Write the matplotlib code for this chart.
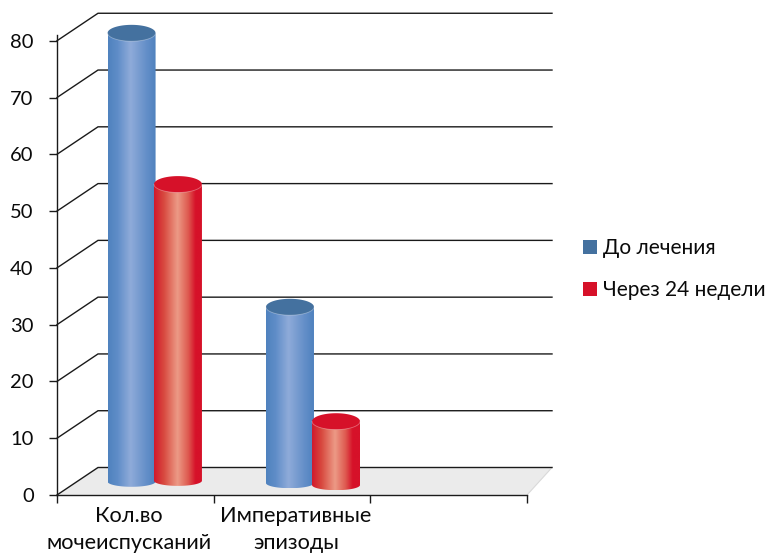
import numpy as np
import matplotlib
matplotlib.use("Agg")
import matplotlib.pyplot as plt
from matplotlib.colors import LinearSegmentedColormap
from matplotlib.patches import Patch, Polygon

plt.rcParams['font.family'] = ['Lato', 'Noto Sans', 'DejaVu Sans']

categories = ["Кол.во\nмочеиспусканий", "Императивные\nэпизоды"]
series_names = ["До лечения", "Через 24 недели"]
before = [79.0, 31.0]
after = [52.2, 11.2]
y_ticks = list(range(0, 90, 10))

W, H = 766, 554
PX_X = 156.67          # pixels per category slot
PX_Y = 5.678           # pixels per value unit
X0, Y0 = 57, 495       # pixel position of the front axis origin
DX = 41 / PX_X         # wall depth along x
DY = 27.5 / PX_Y       # wall depth along y
N_SLOTS = 3

fig = plt.figure(figsize=(W / 100, H / 100), dpi=100)
ax = fig.add_axes([0, 0, 1, 1])
ax.set_xlim(-X0 / PX_X, (W - X0) / PX_X)
ax.set_ylim((Y0 - H) / PX_Y, Y0 / PX_Y)
xlim, ylim = ax.get_xlim(), ax.get_ylim()
ax.patch.set_visible(False)

# Floor of the 3D box
ax.add_patch(Polygon([(0, 0), (N_SLOTS, 0), (N_SLOTS + 25 / PX_X, DY), (DX, DY)],
                     closed=True, fc="#EBEBEB", ec="none", zorder=1))
ax.plot([N_SLOTS, N_SLOTS + 25 / PX_X], [0, DY], color="#D9D9D9", lw=0.8, zorder=1)

# Gridlines run along the back wall and fold down the left side
for v in y_ticks:
    ax.plot([0, DX, N_SLOTS + 25 / PX_X], [v, v + DY, v + DY],
            color="#1a1a1a", lw=1.0, zorder=2, solid_joinstyle="miter")


def cylinder(center, base, value, half_width, colors, stops, top_color):
    """Shaded cylinder standing on `base` and rising by `value`."""
    top = base + value
    ry_top = 8.2 / PX_Y
    ry_bot = 5.2 / PX_Y
    t = np.linspace(0, np.pi, 60)
    xs = center + half_width * np.cos(t)
    # side wall outline: lower arc then straight up to the rim
    body = np.column_stack([
        np.r_[center - half_width * np.cos(t), center + half_width, center - half_width],
        np.r_[base - ry_bot * np.sin(t), top, top],
    ])
    cmap = LinearSegmentedColormap.from_list("shade", list(zip(stops, colors)))
    im = ax.imshow(np.linspace(0, 1, 256)[None, :], cmap=cmap, aspect="auto",
                   extent=(center - half_width, center + half_width, base - ry_bot, top),
                   zorder=3, interpolation="bilinear")
    clip = Polygon(body, closed=True, transform=ax.transData, fc="none", ec="none")
    ax.add_patch(clip)
    im.set_clip_path(clip)
    # cap, with a thin highlight on its front rim
    ring = np.linspace(0, 2 * np.pi, 120)
    ax.add_patch(Polygon(np.column_stack([center + half_width * np.cos(ring),
                                          top + ry_top * np.sin(ring)]),
                         closed=True, fc=top_color, ec="none", zorder=3))
    ax.plot(xs, top - ry_top * np.sin(t), color="white", alpha=0.35, lw=0.6, zorder=3)


BLUE = (["#4F82BE", "#5F8DC8", "#8FABD9", "#648FC9", "#4F82BE"], [0, 0.2, 0.47, 0.8, 1], "#44719F")
RED = (["#D2182C", "#D8493F", "#EC9A86", "#DE5A50", "#D61129", "#D61129"],
       [0, 0.2, 0.48, 0.7, 0.85, 1], "#D61129")

half_w = 24 / PX_X
blue_x = [0.476, 1.487]
red_x = [0.772, 1.781]
blue_base = [2.36, 2.11]
red_base = [2.52, 1.76]

for i in range(len(categories)):
    cylinder(blue_x[i], blue_base[i], before[i], half_w, *BLUE)
for i in range(len(categories)):
    cylinder(red_x[i], red_base[i], after[i], half_w, *RED)

ax.set_xlim(xlim)
ax.set_ylim(ylim)

# Axes: spines pinned to the front corner of the box
for side in ("top", "right"):
    ax.spines[side].set_visible(False)
ax.spines["left"].set_position(("data", 0))
ax.spines["bottom"].set_position(("data", 0))
ax.spines["left"].set_bounds(0, 81)
ax.spines["bottom"].set_bounds(0, N_SLOTS)
for side in ("left", "bottom"):
    ax.spines[side].set_linewidth(1.0)
    ax.spines[side].set_color("#1a1a1a")
    ax.spines[side].set_zorder(4)

ax.set_yticks(y_ticks)
ax.set_xticks(range(N_SLOTS + 1))
ax.set_xticklabels([])
ax.tick_params(axis="y", length=5.8, width=1.0, color="#1a1a1a", pad=11,
               labelsize=14.5, labelcolor="#0a0a0a")
ax.tick_params(axis="x", length=5.8, width=1.0, color="#1a1a1a")
for lbl in ax.get_yticklabels():
    lbl.set_verticalalignment("center_baseline")

label_x = [0.457, 1.525]
for x, text in zip(label_x, categories):
    ax.text(x, -(529.5 - Y0) / PX_Y, text, ha="center", va="center",
            fontsize=15.6, color="#0a0a0a", linespacing=1.47)

handles = [Patch(fc="#44719F", ec="none"), Patch(fc="#D61129", ec="none")]
ax.legend(handles, series_names, frameon=False, loc="center left",
          bbox_to_anchor=(583 / W, 1 - 269 / H), bbox_transform=fig.transFigure,
          fontsize=15, handlelength=0.67, handleheight=0.67, handletextpad=0.27,
          labelspacing=1.05, borderpad=0, borderaxespad=0, labelcolor="#0a0a0a")

fig.savefig("out.png", dpi=100)
